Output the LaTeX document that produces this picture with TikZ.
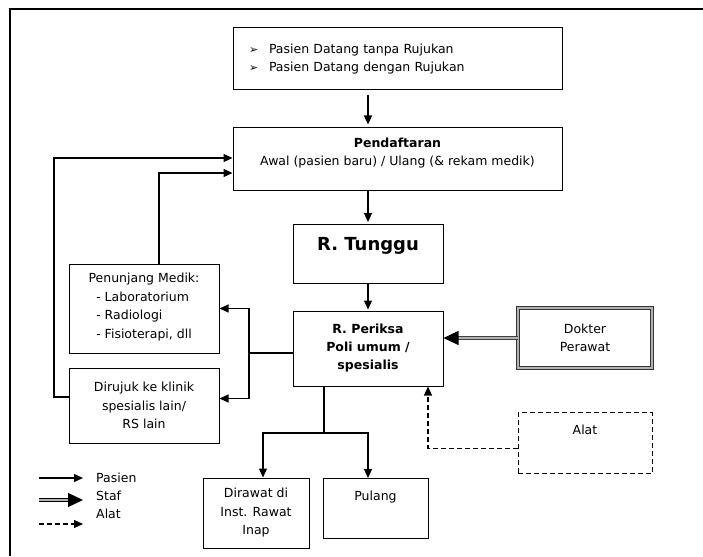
\documentclass[tikz,border=0pt]{standalone}
\usepackage{fontspec}
\setmainfont{DejaVu Sans}
\usetikzlibrary{arrows.meta, positioning}
\newcommand{\arrowbullet}{\makebox[20pt][l]{\fontsize{11}{11}\selectfont ➢}}
\tikzset{
  box/.style={rectangle, draw, line width=1pt, align=center, inner sep=0pt,
              font=\fontsize{12.5}{18.5}\selectfont},
  keytext/.style={anchor=west, inner sep=0pt, font=\fontsize{12.5}{18.5}\selectfont},
  pasien/.style={-{Triangle[length=9pt,width=8pt]}, line width=1.1pt},
  staf/.style={-{Triangle[length=15pt,width=14pt,black]}, draw=black!75, double=black!30,
               line width=1.1pt, double distance=1.5pt},
  alat/.style={-{Triangle[length=9pt,width=8pt]}, line width=1.1pt,
               dash pattern=on 5pt off 3pt},
}
\begin{document}
\begin{tikzpicture}[x=1pt, y=-1pt]
  \useasboundingbox (0,0) rectangle (703,556);
  \draw[line width=2pt] (703,9) -- (10,9) -- (10,556);

  % alur utama
  \node[box, minimum width=329pt, minimum height=62pt, text width=297pt,
        inner xsep=16pt, align=left] (arrival) at (397.5,59)
        {\arrowbullet Pasien Datang tanpa Rujukan\\\arrowbullet Pasien Datang dengan Rujukan};
  \node[box, minimum width=329pt, minimum height=62pt] (registration) at (397.5,159)
        {\textbf{Pendaftaran}\\Awal (pasien baru) / Ulang (\& rekam medik)\\[-4pt]};
  \node[box, minimum width=150pt, text height=25.5pt, text depth=33.5pt, anchor=north,
        font=\bfseries\fontsize{18}{20}\selectfont] (waiting) at (368,224) {R. Tunggu};
  \node[box, minimum width=150pt, minimum height=75pt,
        font=\bfseries\fontsize{12.5}{18}\selectfont] (exam) at (368,348.5)
        {R. Periksa\\Poli umum /\\spesialis};
  \node[box, minimum width=134pt, minimum height=60pt, draw=black!80, double=black!30,
        double distance=2pt] (staff) at (585,338) {Dokter\\Perawat};
  \node[box, minimum width=134pt, text height=22pt, text depth=39pt, anchor=north,
        dash pattern=on 5pt off 3pt] (tool) at (585,412) {Alat};

  % rujukan / penunjang
  \node[box, minimum width=150pt, minimum height=89pt] (support) at (144,308.5)
        {Penunjang Medik:\\\begin{tabular}[t]{@{}l@{}}- Laboratorium\\- Radiologi\\- Fisioterapi, dll\end{tabular}};
  \node[box, minimum width=150pt, minimum height=75pt] (referral) at (144,405.5)
        {Dirujuk ke klinik\\spesialis lain/\\RS lain};

  % keluar
  \node[box, minimum width=106pt, minimum height=70pt] (inpatient) at (256,513)
        {Dirawat di\\Inst. Rawat\\Inap};
  \node[box, minimum width=105pt, text height=21.5pt, text depth=38.5pt, anchor=north]
        (home) at (375.5,478) {Pulang};

  \coordinate (split) at (249,353);
  \coordinate (loop) at (54,158);
  \coordinate (fork) at (324,433);

  \draw[pasien, shorten <=5pt, shorten >=3pt] (arrival.south -| waiting) -- (registration.north -| waiting);
  \draw[pasien, shorten >=2pt] (registration.south -| waiting) -- (waiting);
  \draw[pasien, shorten >=1pt] (waiting) -- (exam);
  \draw[staf] (staff.west) -- (staff.west -| exam.east);
  \draw[alat] ([yshift=-5.5pt]tool.west) -| ([xshift=60pt]exam.south);

  \draw[line width=1.1pt] (exam.west |- split) -- (split);
  \draw[pasien] (split) |- (support.east);
  \draw[pasien] (split) |- ([yshift=7pt]referral.east);
  \draw[pasien] ([xshift=15pt]support.north) |- ([yshift=-14pt]registration.west);
  \draw[pasien] ([yshift=8.5pt]referral.west) -| (loop) -- (loop -| registration.west);

  \draw[line width=1.1pt] (exam.south -| fork) -- (fork);
  \draw[pasien] (fork) -| ([xshift=7pt]inpatient.north);
  \draw[pasien] (fork) -| ([xshift=-7.5pt]home.north);

  % keterangan
  \node[keytext] (keyPasien) at (96,478) {Pasien};
  \node[keytext] (keyStaf) at (96,496) {Staf};
  \node[keytext] (keyAlat) at (96,514) {Alat};
  \coordinate (keyStart) at (39,0);
  \draw[pasien] (keyPasien.west -| keyStart) -- ([xshift=-13pt]keyPasien.west);
  \draw[staf, draw=black] ([yshift=-4pt]keyStaf.west -| keyStart) -- ([xshift=-13pt, yshift=-4pt]keyStaf.west);
  \draw[alat] ([yshift=-10pt]keyAlat.west -| keyStart) -- ([xshift=-13pt, yshift=-10pt]keyAlat.west);
\end{tikzpicture}
\end{document}
